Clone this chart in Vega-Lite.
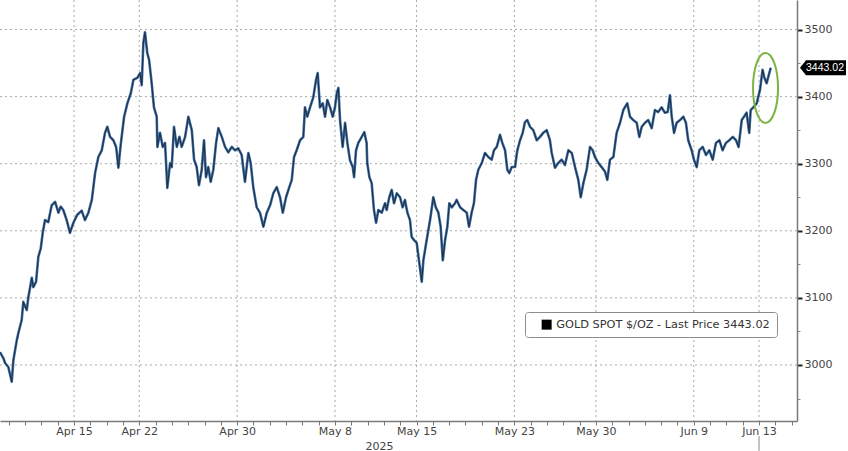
{
  "$schema": "https://vega.github.io/schema/vega-lite/v6.json",
  "width": 797,
  "height": 421,
  "padding": {"left": 0, "top": 0, "right": 51, "bottom": 30},
  "autosize": {"type": "none"},
  "background": "#ffffff",
  "config": {"view": {"stroke": null}, "font": "DejaVu Sans"},
  "datasets": {
    "gold": [
      {"t":-4.54,"v":3019},{"t":-4.33,"v":3010},{"t":-4.23,"v":3003},{"t":-4.03,"v":2997},{"t":-3.82,"v":2975},{"t":-3.72,"v":3007},{"t":-3.51,"v":3037},{"t":-3.41,"v":3048},{"t":-3.21,"v":3067},{"t":-3.11,"v":3094},{"t":-2.90,"v":3082},{"t":-2.80,"v":3101},{"t":-2.59,"v":3130},{"t":-2.50,"v":3116},{"t":-2.33,"v":3124},{"t":-2.19,"v":3161},{"t":-2.04,"v":3174},{"t":-1.92,"v":3197},{"t":-1.78,"v":3216},{"t":-1.58,"v":3213},{"t":-1.37,"v":3238},{"t":-1.16,"v":3243},{"t":-0.96,"v":3227},{"t":-0.82,"v":3236},{"t":-0.66,"v":3231},{"t":-0.45,"v":3216},{"t":-0.25,"v":3197},{"t":-0.04,"v":3212},{"t":0.20,"v":3224},{"t":0.47,"v":3230},{"t":0.67,"v":3216},{"t":0.88,"v":3227},{"t":1.09,"v":3246},{"t":1.29,"v":3286},{"t":1.49,"v":3310},{"t":1.70,"v":3320},{"t":1.90,"v":3346},{"t":2.04,"v":3355},{"t":2.21,"v":3340},{"t":2.41,"v":3335},{"t":2.58,"v":3325},{"t":2.72,"v":3294},{"t":2.86,"v":3328},{"t":3.07,"v":3370},{"t":3.27,"v":3390},{"t":3.48,"v":3405},{"t":3.64,"v":3425},{"t":3.88,"v":3428},{"t":4.05,"v":3435},{"t":4.15,"v":3417},{"t":4.25,"v":3480},{"t":4.35,"v":3496},{"t":4.49,"v":3465},{"t":4.60,"v":3455},{"t":4.76,"v":3420},{"t":4.90,"v":3384},{"t":5.07,"v":3370},{"t":5.11,"v":3325},{"t":5.27,"v":3346},{"t":5.44,"v":3325},{"t":5.58,"v":3331},{"t":5.72,"v":3264},{"t":5.89,"v":3301},{"t":5.99,"v":3295},{"t":6.13,"v":3355},{"t":6.30,"v":3325},{"t":6.46,"v":3340},{"t":6.60,"v":3325},{"t":6.81,"v":3340},{"t":7.01,"v":3370},{"t":7.22,"v":3350},{"t":7.36,"v":3306},{"t":7.52,"v":3295},{"t":7.66,"v":3268},{"t":7.83,"v":3291},{"t":7.97,"v":3335},{"t":8.09,"v":3280},{"t":8.23,"v":3295},{"t":8.38,"v":3273},{"t":8.54,"v":3291},{"t":8.71,"v":3331},{"t":8.85,"v":3353},{"t":9.06,"v":3340},{"t":9.26,"v":3325},{"t":9.46,"v":3317},{"t":9.67,"v":3325},{"t":9.87,"v":3320},{"t":10.07,"v":3323},{"t":10.28,"v":3313},{"t":10.48,"v":3273},{"t":10.69,"v":3316},{"t":10.83,"v":3301},{"t":10.99,"v":3265},{"t":11.20,"v":3235},{"t":11.40,"v":3227},{"t":11.61,"v":3206},{"t":11.82,"v":3227},{"t":12.02,"v":3238},
      {"t":12.22,"v":3256},{"t":12.43,"v":3265},{"t":12.63,"v":3250},{"t":12.80,"v":3227},{"t":13.00,"v":3250},{"t":13.20,"v":3265},{"t":13.35,"v":3276},{"t":13.49,"v":3310},{"t":13.65,"v":3320},{"t":13.86,"v":3335},{"t":14.06,"v":3340},{"t":14.16,"v":3384},{"t":14.30,"v":3370},{"t":14.47,"v":3384},{"t":14.67,"v":3399},{"t":14.84,"v":3425},{"t":14.94,"v":3435},{"t":15.08,"v":3384},{"t":15.25,"v":3390},{"t":15.39,"v":3370},{"t":15.53,"v":3395},{"t":15.70,"v":3384},{"t":15.86,"v":3370},{"t":16.00,"v":3384},{"t":16.11,"v":3405},{"t":16.21,"v":3413},{"t":16.31,"v":3365},{"t":16.47,"v":3325},{"t":16.62,"v":3361},{"t":16.76,"v":3331},{"t":16.92,"v":3305},{"t":17.09,"v":3295},{"t":17.17,"v":3280},{"t":17.29,"v":3320},{"t":17.43,"v":3331},{"t":17.64,"v":3340},{"t":17.80,"v":3347},{"t":17.94,"v":3331},{"t":17.98,"v":3301},{"t":18.11,"v":3280},{"t":18.25,"v":3271},{"t":18.39,"v":3231},{"t":18.52,"v":3212},{"t":18.66,"v":3231},{"t":18.87,"v":3227},{"t":19.07,"v":3241},{"t":19.17,"v":3231},{"t":19.33,"v":3250},{"t":19.48,"v":3261},{"t":19.62,"v":3241},{"t":19.79,"v":3256},{"t":19.99,"v":3250},{"t":20.15,"v":3235},{"t":20.29,"v":3246},{"t":20.44,"v":3227},{"t":20.60,"v":3216},{"t":20.70,"v":3191},{"t":20.85,"v":3186},{"t":21.01,"v":3182},{"t":21.15,"v":3156},{"t":21.32,"v":3124},{"t":21.42,"v":3156},{"t":21.62,"v":3186},{"t":21.83,"v":3216},{"t":22.03,"v":3250},{"t":22.18,"v":3235},{"t":22.34,"v":3227},{"t":22.48,"v":3206},{"t":22.61,"v":3156},{"t":22.75,"v":3186},{"t":22.89,"v":3206},{"t":23.01,"v":3241},{"t":23.16,"v":3235},{"t":23.36,"v":3241},{"t":23.46,"v":3246},{"t":23.67,"v":3235},{"t":23.87,"v":3231},{"t":24.08,"v":3227},{"t":24.22,"v":3206},{"t":24.38,"v":3227},{"t":24.52,"v":3241},{"t":24.65,"v":3276},{"t":24.79,"v":3291},{"t":25.00,"v":3301},{"t":25.20,"v":3316},{"t":25.40,"v":3310},{"t":25.61,"v":3306},{"t":25.75,"v":3320},{"t":25.92,"v":3325},{"t":26.12,"v":3343},{"t":26.26,"v":3331},{"t":26.43,"v":3320},{"t":26.57,"v":3291},{"t":26.69,"v":3286},{"t":26.84,"v":3295},{"t":27.04,"v":3295},{"t":27.18,"v":3320},{"t":27.35,"v":3335},{"t":27.51,"v":3346},{"t":27.65,"v":3362},{"t":27.79,"v":3365},{"t":27.96,"v":3355},{"t":28.16,"v":3350},{"t":28.37,"v":3335},{"t":28.57,"v":3340},{"t":28.77,"v":3346},{"t":28.98,"v":3350},{"t":29.18,"v":3335},
      {"t":29.29,"v":3316},{"t":29.49,"v":3294},{"t":29.69,"v":3301},{"t":29.90,"v":3306},{"t":30.10,"v":3298},{"t":30.31,"v":3320},{"t":30.52,"v":3316},{"t":30.72,"v":3295},{"t":30.92,"v":3276},{"t":31.07,"v":3250},{"t":31.23,"v":3271},{"t":31.43,"v":3291},{"t":31.64,"v":3325},{"t":31.80,"v":3320},{"t":31.94,"v":3310},{"t":32.15,"v":3301},{"t":32.35,"v":3295},{"t":32.56,"v":3288},{"t":32.70,"v":3276},{"t":32.86,"v":3306},{"t":33.07,"v":3310},{"t":33.27,"v":3346},{"t":33.48,"v":3361},{"t":33.68,"v":3380},{"t":33.92,"v":3390},{"t":34.09,"v":3370},{"t":34.29,"v":3365},{"t":34.50,"v":3361},{"t":34.66,"v":3340},{"t":34.81,"v":3355},{"t":35.01,"v":3361},{"t":35.21,"v":3365},{"t":35.42,"v":3353},{"t":35.62,"v":3380},{"t":35.82,"v":3377},{"t":36.03,"v":3384},{"t":36.23,"v":3376},{"t":36.40,"v":3377},{"t":36.54,"v":3402},{"t":36.65,"v":3370},{"t":36.79,"v":3346},{"t":36.95,"v":3361},{"t":37.16,"v":3365},{"t":37.36,"v":3370},{"t":37.52,"v":3361},{"t":37.66,"v":3335},{"t":37.87,"v":3320},{"t":38.01,"v":3306},{"t":38.18,"v":3295},{"t":38.34,"v":3320},{"t":38.55,"v":3325},{"t":38.75,"v":3313},{"t":38.95,"v":3320},{"t":39.16,"v":3306},{"t":39.36,"v":3331},{"t":39.57,"v":3335},{"t":39.77,"v":3320},{"t":39.97,"v":3331},{"t":40.18,"v":3335},{"t":40.39,"v":3340},{"t":40.59,"v":3335},{"t":40.75,"v":3325},{"t":40.94,"v":3365},{"t":41.08,"v":3370},{"t":41.24,"v":3376},{"t":41.40,"v":3346},{"t":41.49,"v":3380},{"t":41.65,"v":3384},{"t":41.86,"v":3390},{"t":42.06,"v":3410},{"t":42.22,"v":3440},{"t":42.32,"v":3429},{"t":42.47,"v":3420},{"t":42.63,"v":3435},{"t":42.72,"v":3443.02}
    ],
    "xgrid": [{"t":0},{"t":4},{"t":10},{"t":16},{"t":21},{"t":27},{"t":32},{"t":38},{"t":42}],
    "ygrid": [{"v":3000},{"v":3100},{"v":3200},{"v":3300},{"v":3400},{"v":3500}],
    "marker": [{"t": 42.4, "v": 3413}],
    "last": [{"t": 44.33, "v": 3443.02, "label": "3443.02"}],
    "today": [{"t": 42, "v": 2894, "v2": 2872}]
  },
  "layer": [
    {
      "data": {"name": "xgrid"},
      "mark": {"type": "rule", "stroke": "#aaaaaa", "strokeWidth": 1, "strokeDash": [2, 3]},
      "encoding": {"x": {"field": "t", "type": "quantitative", "axis": null}}
    },
    {
      "data": {"name": "ygrid"},
      "mark": {"type": "rule", "stroke": "#aaaaaa", "strokeWidth": 1, "strokeDash": [2, 3]},
      "encoding": {"y": {"field": "v", "type": "quantitative", "axis": null}}
    },
    {
      "data": {"name": "gold"},
      "mark": {"type": "line", "stroke": "#3f72aa", "strokeWidth": 2.6, "strokeJoin": "round", "interpolate": "linear"},
      "encoding": {
        "x": {
          "field": "t", "type": "quantitative",
          "scale": {"domain": [-4.54, 44.33], "nice": false, "zero": false},
          "axis": {
            "orient": "bottom",
            "values": [0, 4, 10, 16, 21, 27, 32, 38, 42],
            "labelExpr": "datum.value==0?'Apr 15':datum.value==4?'Apr 22':datum.value==10?'Apr 30':datum.value==16?'May 8':datum.value==21?'May 15':datum.value==27?'May 23':datum.value==32?'May 30':datum.value==38?'Jun 9':'Jun 13'",
            "grid": false,
            "ticks": false,
            "domain": true, "domainColor": "#7a7a7a", "domainWidth": 1.5,
            "labelFontSize": 11, "labelColor": "#444444", "labelPadding": 4, "labelFont": "DejaVu Sans",
            "title": "2025", "titleX": 379, "titleY": 19, "titleBaseline": "top", "titleAlign": "center",
            "titleFontSize": 11, "titleFontWeight": "normal", "titleColor": "#444444", "titleFont": "DejaVu Sans"
          }
        },
        "y": {
          "field": "v", "type": "quantitative",
          "scale": {"domain": [2916.5, 3544], "nice": false, "zero": false},
          "axis": {
            "orient": "right",
            "values": [3000, 3100, 3200, 3300, 3400, 3500],
            "format": "d",
            "grid": false,
            "ticks": true, "tickSize": 5, "tickColor": "#222222", "tickWidth": 2,
            "domain": true, "domainColor": "#7a7a7a", "domainWidth": 1.5,
            "labelFontSize": 11, "labelColor": "#444444", "labelPadding": 2, "labelFont": "DejaVu Sans",
            "title": null
          }
        },
        "color": {
          "datum": "GOLD SPOT $/OZ - Last Price 3443.02",
          "type": "nominal",
          "scale": {"range": ["#3f72aa"]},
          "legend": {
            "orient": "none", "legendX": 525, "legendY": 312,
            "title": null, "padding": 7, "cornerRadius": 3,
            "strokeColor": "#8c8c8c", "fillColor": "#ffffff",
            "symbolType": "square", "symbolSize": 100, "symbolOffset": 9,
            "labelFontSize": 11.3, "labelColor": "#333333", "labelFont": "DejaVu Sans", "labelLimit": 400, "labelOffset": 4,
            "encode": {"symbols": {"update": {"fill": {"value": "#000000"}, "stroke": {"value": "#000000"}, "strokeWidth": {"value": 0}}}}
          }
        }
      }
    },
    {
      "data": {"name": "gold"},
      "mark": {"type": "line", "stroke": "#1b2533", "strokeWidth": 1.1, "opacity": 0.85, "strokeJoin": "round", "interpolate": "linear"},
      "encoding": {
        "x": {
          "field": "t", "type": "quantitative",
          "axis": {
            "orient": "bottom",
            "values": [-4,-3,-2,-1,0,1,2,3,4,5,6,7,8,9,10,11,12,13,14,15,16,17,18,19,20,21,22,23,24,25,26,27,28,29,30,31,32,33,34,35,36,37,38,39,40,41,42,43,44],
            "labels": false, "grid": false, "domain": false,
            "ticks": true, "tickSize": 4, "tickColor": "#777777", "tickWidth": 1,
            "title": null
          }
        },
        "y": {
          "field": "v", "type": "quantitative",
          "axis": {
            "orient": "right",
            "values": [2950, 3050, 3150, 3250, 3350, 3450],
            "labels": false, "grid": false, "domain": false,
            "ticks": true, "tickSize": 3, "tickColor": "#888888", "tickWidth": 1,
            "title": null
          }
        }
      }
    },
    {
      "data": {"name": "marker"},
      "mark": {
        "type": "point", "filled": false, "stroke": "#7cb342", "strokeWidth": 2, "opacity": 1,
        "shape": "M0,-1C0.197,-1,0.357,-0.552,0.357,0C0.357,0.552,0.197,1,0,1C-0.197,1,-0.357,0.552,-0.357,0C-0.357,-0.552,-0.197,-1,0,-1Z",
        "size": 4900
      },
      "encoding": {
        "x": {"field": "t", "type": "quantitative", "axis": null},
        "y": {"field": "v", "type": "quantitative", "axis": null}
      }
    },
    {
      "data": {"name": "last"},
      "mark": {
        "type": "point", "filled": true, "fill": "#000000", "stroke": null, "opacity": 1,
        "shape": "M0.3,0L0.9,-0.75L4.9,-0.75L4.9,0.75L0.9,0.75Z",
        "size": 400
      },
      "encoding": {
        "x": {"field": "t", "type": "quantitative", "axis": null},
        "y": {"field": "v", "type": "quantitative", "axis": null}
      }
    },
    {
      "data": {"name": "last"},
      "mark": {"type": "text", "color": "#ffffff", "font": "Liberation Sans", "fontSize": 10.5, "dx": 28, "align": "center", "baseline": "middle"},
      "encoding": {
        "x": {"field": "t", "type": "quantitative", "axis": null},
        "y": {"field": "v", "type": "quantitative", "axis": null},
        "text": {"field": "label"}
      }
    },
    {
      "data": {"name": "today"},
      "mark": {"type": "rule", "stroke": "#888888", "strokeWidth": 1},
      "encoding": {
        "x": {"field": "t", "type": "quantitative", "axis": null},
        "y": {"field": "v", "type": "quantitative", "axis": null},
        "y2": {"field": "v2"}
      }
    }
  ],
  "resolve": {"axis": {"x": "independent", "y": "independent"}}
}
